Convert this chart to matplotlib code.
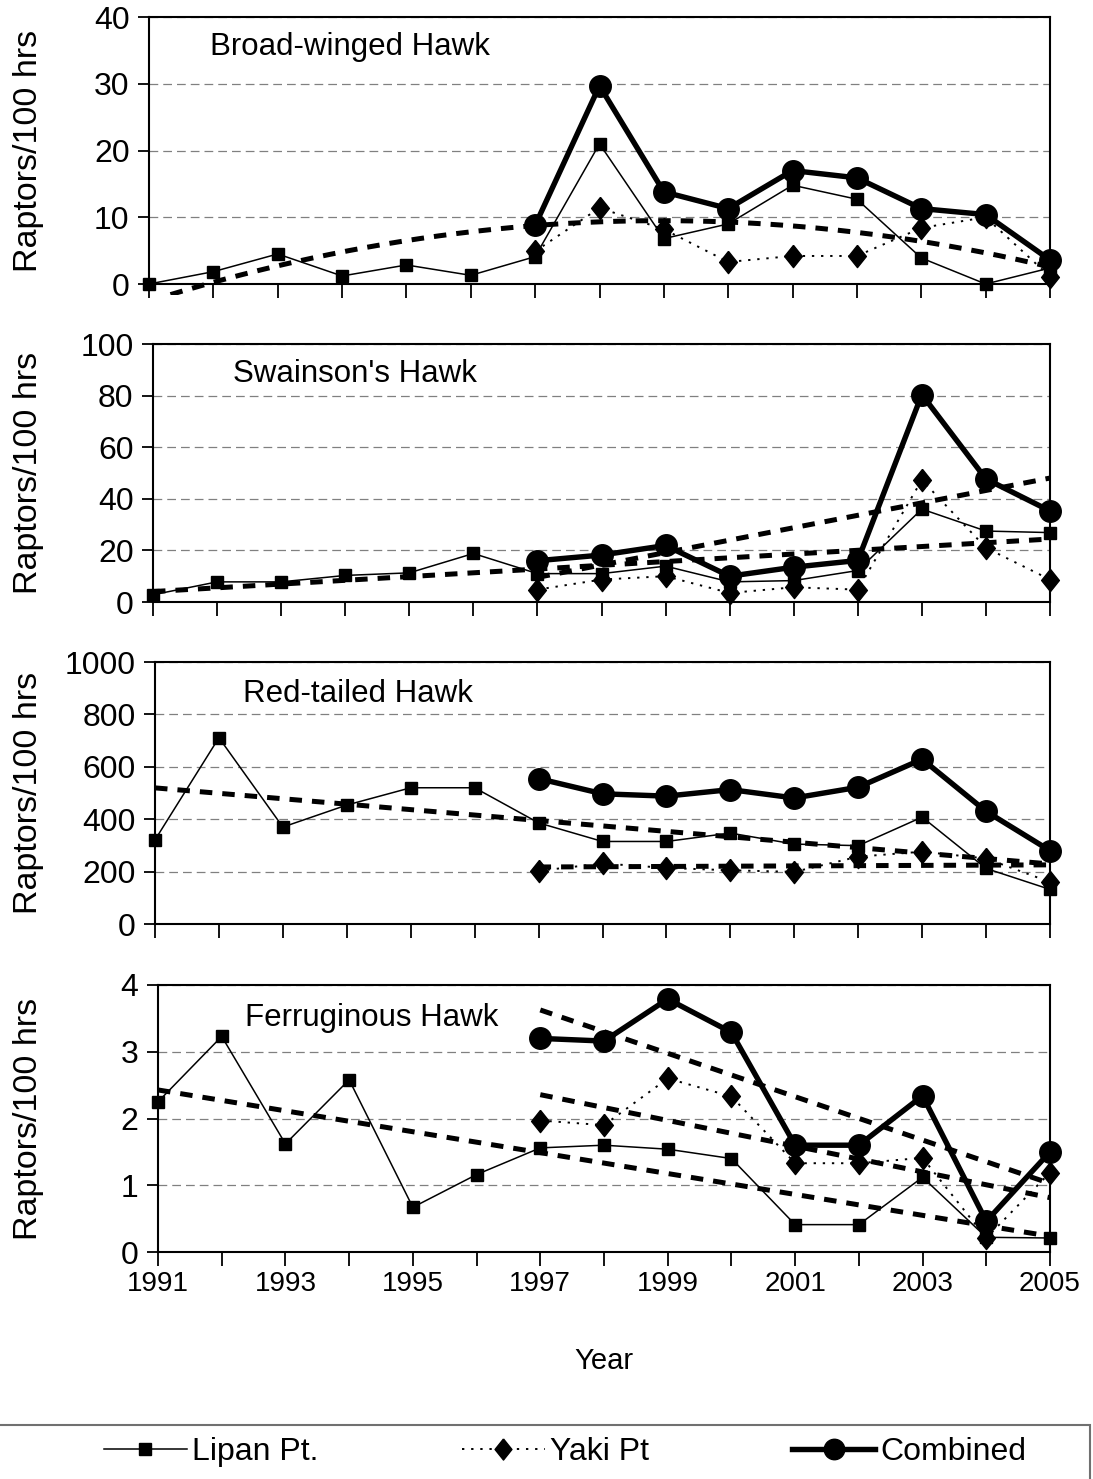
import numpy as np
import matplotlib
matplotlib.use('Agg')
import matplotlib.pyplot as plt
from matplotlib.patches import Rectangle
from matplotlib.transforms import Bbox, TransformedBbox

plt.rcParams['font.family'] = ['Liberation Sans', 'DejaVu Sans']

##################
# data (raptors / 100 hrs)
##################
years = np.arange(1991, 2006)
late_years = np.arange(1997, 2006)

# Broad-winged Hawk
bw_lipan = [0, 1.85, 4.5, 1.2, 2.85, 1.3, 4.1, 21.0, 6.8, 9.0, 14.8, 12.7, 3.9, 0, 2.4]
bw_yaki = [4.9, 11.4, 8.2, 3.3, 4.2, 4.2, 8.4, 10.0, 1.1]
bw_comb = [8.8, 29.7, 13.8, 11.3, 17.0, 15.9, 11.3, 10.4, 3.6]

# Swainson's Hawk
sw_lipan = [2.8, 7.8, 7.8, 10.3, 11.3, 18.8, 11.0, 11.0, 13.9, 7.8, 8.3, 12.2, 36.0, 27.5, 26.9]
sw_yaki = [4.8, 8.7, 10.0, 3.5, 5.7, 4.8, 47.3, 21.0, 8.7]
sw_comb = [16.0, 18.2, 21.9, 10.0, 13.5, 16.1, 80.4, 47.7, 35.3]

# Red-tailed Hawk
rt_lipan = [321, 711, 370, 454, 520, 520, 386, 315, 315, 347, 305, 299, 408, 212, 132]
rt_yaki = [203, 231, 214, 205, 199, 257, 276, 250, 160]
rt_comb = [555, 497, 488, 513, 481, 522, 629, 430, 280]

# Ferruginous Hawk
fh_lipan = [2.25, 3.23, 1.62, 2.58, 0.67, 1.16, 1.56, 1.6, 1.54, 1.4, 0.41, 0.41, 1.12, 0.22, 0.21]
fh_yaki = [1.97, 1.9, 2.6, 2.33, 1.33, 1.33, 1.41, 0.21, 1.19]
fh_comb = [3.2, 3.16, 3.79, 3.29, 1.6, 1.6, 2.34, 0.46, 1.5]

species = ['Broad-winged Hawk', "Swainson's Hawk", 'Red-tailed Hawk', 'Ferruginous Hawk']
ymax = [40, 100, 1000, 4]
ystep = [10, 20, 200, 1]
# Excel trendlines: (series, polynomial order)
trends = [[('lipan', 2)],
          [('lipan', 1), ('comb', 1)],
          [('lipan', 1), ('yaki', 1)],
          [('lipan', 1), ('yaki', 1), ('comb', 1)]]
panels = [(bw_lipan, bw_yaki, bw_comb), (sw_lipan, sw_yaki, sw_comb),
          (rt_lipan, rt_yaki, rt_comb), (fh_lipan, fh_yaki, fh_comb)]

# axes boxes in pixels: left, top, right, bottom
W, H = 1093., 1479.
boxes = [(149, 17, 1050, 284), (153, 344, 1050, 602),
         (155, 662, 1050, 924), (158, 985, 1050, 1252)]
title_pos = [(0.068, 0.888), (0.089, 0.882), (0.098, 0.878), (0.0975, 0.876)]

fig = plt.figure(figsize=(W/100, H/100), dpi=100)

diamond = [(0, 1), (0.8, 0), (0, -1), (-0.8, 0), (0, 1)]
sty_lipan = dict(color='k', lw=1.1, marker='s', ms=9, zorder=4, clip_on=False)
sty_yaki = dict(color='k', lw=1.4, ls=(0, (1.2, 3.5)), marker=diamond, ms=16,
                zorder=5, clip_on=False)
sty_comb = dict(color='k', lw=3.9, marker='o', ms=15.5, zorder=6, clip_on=False)

handles = None
for i, (box, (lip, yak, comb)) in enumerate(zip(boxes, panels)):
    l, t, r, b = box
    ax = fig.add_axes([l/W, 1-b/H, (r-l)/W, (b-t)/H])

    series = {'lipan': (years, lip), 'yaki': (late_years, yak), 'comb': (late_years, comb)}
    for name, order in trends[i]:
        xx, yy = series[name]
        coef = np.polyfit(xx - 1998, yy, order)
        xf = np.linspace(xx[0], xx[-1], 200)
        ln, = ax.plot(xf, np.polyval(coef, xf - 1998), color='k', lw=3.6,
                      ls=(0, (2.5, 2.0)), zorder=3, solid_capstyle='butt')
        ln.set_clip_box(TransformedBbox(Bbox([[0, -0.04], [1, 1]]), ax.transAxes))

    h1, = ax.plot(years, lip, label='Lipan Pt.', **sty_lipan)
    h2, = ax.plot(late_years, yak, label='Yaki Pt', **sty_yaki)
    h3, = ax.plot(late_years, comb, label='Combined', **sty_comb)
    handles = [h1, h2, h3]

    ax.set_xlim(1991, 2005)
    ax.set_ylim(0, ymax[i])
    ax.set_yticks(np.arange(0, ymax[i] + ystep[i]/2, ystep[i]))
    ax.set_xticks(years)
    if i == 3:
        ax.set_xticklabels([str(y) if y % 2 == 1 else '' for y in years])
        ax.set_xlabel('Year', fontsize=21, labelpad=36)
    else:
        ax.set_xticklabels([])
    ax.tick_params(axis='both', direction='out', length=8, width=1.3,
                   colors='k', pad=6)
    ax.tick_params(axis='y', labelsize=23)
    ax.tick_params(axis='x', length=10, pad=4, labelsize=20)
    ax.yaxis.grid(True, color='#808080', lw=0.9, ls=(0, (7, 4)))
    ax.set_axisbelow(True)
    for s in ax.spines.values():
        s.set_linewidth(1.5)
        s.set_color('k')
        s.set_zorder(7)

    ax.text(title_pos[i][0], title_pos[i][1], species[i], transform=ax.transAxes,
            fontsize=22.5, va='center', ha='left')
    fig.text(29/W, 1 - (t + b)/2/H, 'Raptors/100 hrs', rotation=90,
             fontsize=24.5, va='center', ha='center')

# legend strip at the bottom
fig.patches.append(Rectangle((-0.01, -0.05), 1.007, 0.0865, transform=fig.transFigure,
                             fill=False, edgecolor='#707070', lw=1.5))
fig.legend(handles=handles, loc='center', bbox_to_anchor=(0.517, 0.0183), ncol=3,
           frameon=False, fontsize=23, handlelength=2.6, handletextpad=0.15,
           columnspacing=4.5, markerscale=0.95)

plt.savefig('out.png', dpi=100)
plt.close()
